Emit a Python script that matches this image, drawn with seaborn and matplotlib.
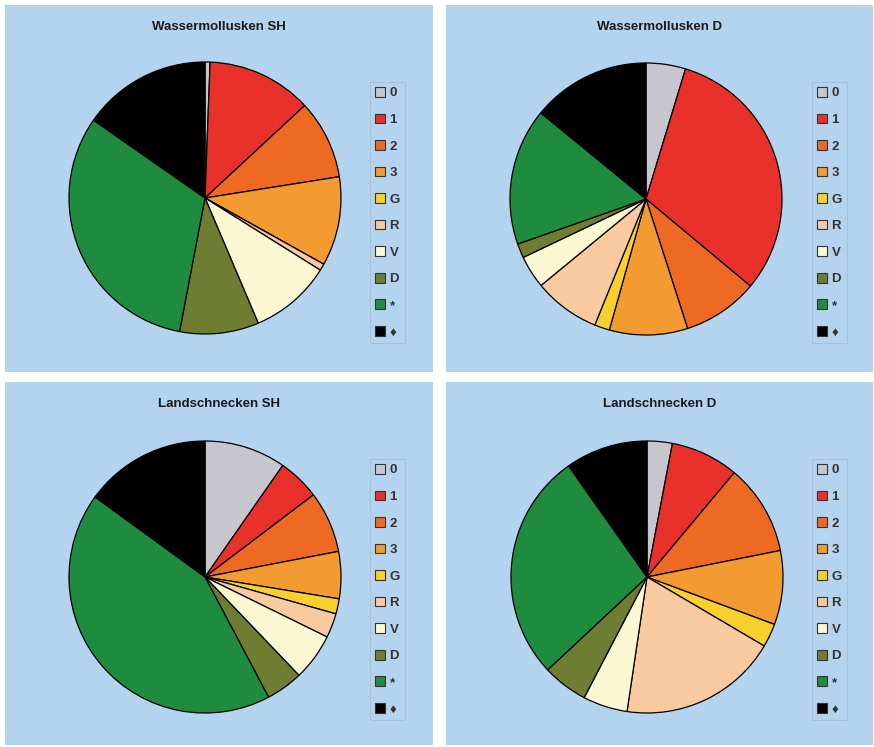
import matplotlib
matplotlib.use("Agg")
import matplotlib.pyplot as plt
from matplotlib.patches import Rectangle, Patch
import seaborn as sns

sns.set_theme(style="white")
plt.rcParams['font.family'] = ['Liberation Sans', 'DejaVu Sans']

# ---- data ----
categories = ["0", "1", "2", "3", "G", "R", "V", "D", "*", "\u2666"]
wasser_sh = [0.6, 12.5, 9.4, 10.6, 0.0, 0.8, 9.7, 9.4, 31.7, 15.3]
wasser_d = [4.7, 31.4, 9.0, 9.3, 1.8, 7.9, 3.9, 1.7, 16.3, 14.1]
land_sh = [9.7, 5.0, 7.3, 5.6, 1.8, 2.9, 5.6, 4.4, 42.8, 15.0]
land_d = [3.0, 8.1, 10.8, 8.8, 2.8, 18.9, 5.3, 5.4, 27.2, 9.8]
titles = ["Wassermollusken SH", "Wassermollusken D", "Landschnecken SH", "Landschnecken D"]
series = [wasser_sh, wasser_d, land_sh, land_d]

colors = sns.color_palette(["#c6c6cc", "#e8312a", "#ee6a23", "#f39b30", "#f7cf2e",
                            "#f9c9a0", "#fbf7d2", "#6f7d32", "#1e8b3f", "#000000"])
bg = "#b4d3ee"

W, H = 874, 747
fig = plt.figure(figsize=(W / 100, H / 100), dpi=100)
fig.patch.set_facecolor("white")

def fx(px):
    return px / W

def fy(py):
    return 1 - py / H

# panel rectangles (left, top, right, bottom) in pixels
panels = [(5, 5, 433, 372), (446, 5, 873, 372), (5, 382, 433, 745), (446, 382, 873, 745)]
pie_centers = [(205, 198), (646, 199), (205, 577), (647, 577)]
legend_x = [370, 812, 370, 812]
R = 136

for i, (vals, title) in enumerate(zip(series, titles)):
    l, t, r, b = panels[i]
    fig.patches.append(Rectangle((fx(l), fy(b)), fx(r - l), (b - t) / H,
                                 transform=fig.transFigure, facecolor=bg,
                                 edgecolor="none", zorder=-5))
    cx, cy = pie_centers[i]
    pad = 3
    ax = fig.add_axes([fx(cx - R - pad), fy(cy + R + pad), fx(2 * (R + pad)), 2 * (R + pad) / H])
    ax.set_zorder(2)
    ax.pie(vals, colors=colors, startangle=90, counterclock=False,
           wedgeprops=dict(edgecolor="black", linewidth=0.9))
    lim = (R + pad) / R
    ax.set_xlim(-lim, lim)
    ax.set_ylim(-lim, lim)
    ax.set_axis_off()
    ax.patch.set_alpha(0)

    fig.text(fx((l + r) / 2), fy(t + 22), title, ha="center", va="center",
             fontsize=9.5, fontweight="bold", color="#1a1a1a", zorder=3)

    handles = [Patch(facecolor=c, edgecolor="#333333", linewidth=0.8) for c in colors]
    leg = fig.legend(handles, categories, loc="upper left",
                     bbox_to_anchor=(fx(legend_x[i]), fy(t + 77)),
                     bbox_transform=fig.transFigure,
                     frameon=True, fancybox=False, fontsize=9.5,
                     handlelength=0.75, handleheight=0.75, handletextpad=0.35,
                     labelspacing=1.07, borderpad=0.38, borderaxespad=0)
    leg.set_zorder(3)
    fr = leg.get_frame()
    fr.set_facecolor(bg)
    fr.set_edgecolor("#a9bccd")
    fr.set_linewidth(0.8)
    for txt in leg.get_texts():
        txt.set_color("#333333")
        txt.set_fontweight("bold")

fig.savefig("out.png", dpi=100, facecolor="white")
